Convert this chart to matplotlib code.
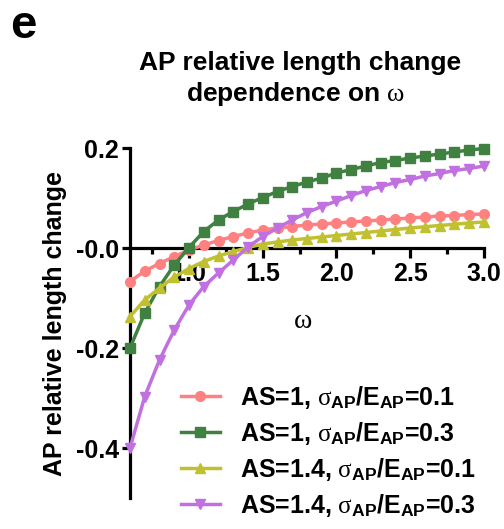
import numpy as np
import matplotlib
matplotlib.use("Agg")
import matplotlib.pyplot as plt
from matplotlib.ticker import FixedLocator, FixedFormatter

plt.rcParams["font.family"] = ["Liberation Sans", "DejaVu Sans"]
plt.rcParams["font.weight"] = "bold"
plt.rcParams["mathtext.fontset"] = "custom"
plt.rcParams["mathtext.rm"] = "Liberation Sans:bold"
plt.rcParams["mathtext.bf"] = "Liberation Sans:bold"
plt.rcParams["mathtext.it"] = "Liberation Serif:normal"

# omega values (0.6 .. 3.0, step 0.1)
omega = [0.6, 0.7, 0.8, 0.9, 1.0, 1.1, 1.2, 1.3, 1.4, 1.5, 1.6, 1.7, 1.8,
         1.9, 2.0, 2.1, 2.2, 2.3, 2.4, 2.5, 2.6, 2.7, 2.8, 2.9, 3.0]

as1_s01 = [-0.067, -0.046, -0.031, -0.017, -0.004, 0.006, 0.015, 0.023, 0.030,
           0.036, 0.040, 0.043, 0.046, 0.048, 0.050, 0.052, 0.054, 0.056,
           0.058, 0.060, 0.062, 0.064, 0.065, 0.067, 0.068]
as1_s03 = [-0.200, -0.130, -0.077, -0.034, 0.001, 0.033, 0.056, 0.073, 0.088,
           0.101, 0.113, 0.123, 0.132, 0.140, 0.150, 0.157, 0.164, 0.171,
           0.175, 0.180, 0.184, 0.188, 0.192, 0.196, 0.199]
as14_s01 = [-0.137, -0.104, -0.080, -0.058, -0.041, -0.027, -0.016, -0.007, 0.001,
            0.008, 0.012, 0.016, 0.019, 0.022, 0.025, 0.028, 0.031, 0.034,
            0.037, 0.040, 0.0425, 0.045, 0.0475, 0.050, 0.052]
as14_s03 = [-0.400, -0.297, -0.224, -0.164, -0.114, -0.077, -0.050, -0.024, 0.002,
            0.023, 0.040, 0.056, 0.071, 0.083, 0.094, 0.105, 0.115, 0.123,
            0.131, 0.137, 0.144, 0.149, 0.155, 0.159, 0.164]

sig = r"$\mathit{\sigma}_{\mathrm{AP}}$/E$_{\mathrm{AP}}$"
series = [
    (as1_s01, "#FF8080", "o", "AS=1, " + sig + "=0.1"),
    (as1_s03, "#408040", "s", "AS=1, " + sig + "=0.3"),
    (as14_s01, "#C0C030", "^", "AS=1.4, " + sig + "=0.1"),
    (as14_s03, "#C070E0", "v", "AS=1.4, " + sig + "=0.3"),
]

yticks = [0.2, 0.0, -0.2, -0.4]
ytick_labels = ["0.2", "-0.0", "-0.2", "-0.4"]
xticks = [1.0, 1.5, 2.0, 2.5, 3.0]
xtick_labels = ["1.0", "1.5", "2.0", "2.5", "3.0"]
xticks_minor = [0.75, 1.25, 1.75, 2.25, 2.75]

W, H = 504, 529
fig = plt.figure(figsize=(W / 100, H / 100), dpi=100)
ax = fig.add_axes([130 / W, 31 / H, (484 - 130) / W, (381 - 31) / H])

handles = []
for vals, color, marker, label in series:
    h, = ax.plot(omega, vals, color=color, marker=marker, markersize=7,
                 linewidth=2.5, clip_on=False, zorder=3, label=label)
    handles.append(h)

ax.set_xlim(0.6, 3.0)
ax.set_ylim(-0.5, 0.2)

ax.spines["top"].set_visible(False)
ax.spines["right"].set_visible(False)
ax.spines["bottom"].set_position(("data", 0))
for s in ("left", "bottom"):
    ax.spines[s].set_linewidth(2.3)

ax.yaxis.set_major_locator(FixedLocator(yticks))
ax.yaxis.set_major_formatter(FixedFormatter(ytick_labels))
ax.xaxis.set_major_locator(FixedLocator(xticks))
ax.xaxis.set_minor_locator(FixedLocator(xticks_minor))
ax.xaxis.set_major_formatter(FixedFormatter(xtick_labels))
ax.tick_params(axis="y", which="major", length=6, width=2.3, labelsize=18, pad=2)
ax.tick_params(axis="x", which="major", length=7, width=2.3, labelsize=18, pad=3)
ax.tick_params(axis="x", which="minor", length=4.5, width=2.3)

ax.set_ylabel("AP relative length change", fontsize=18, fontweight="bold", labelpad=6)

# omega symbol drawn in a serif face, as in the original
fig.text(303 / W, 1 - 321 / H, "\u03c9", fontsize=20, family="Liberation Serif",
         fontweight="normal", ha="center", va="center")

fig.text(300 / W, 1 - 70 / H, "AP relative length change", fontsize=19,
         fontweight="bold", ha="center", va="baseline")
fig.text(296 / W, 1 - 101 / H, r"dependence on $\mathit{\omega}$", fontsize=19,
         fontweight="bold", ha="center", va="baseline")
fig.text(10 / W, 1 - 38 / H, "e", fontsize=34, fontweight="bold", ha="left", va="baseline")

ax.legend(handles=handles, loc="upper left", bbox_to_anchor=(181 / W, 1 - 384 / H),
          bbox_transform=fig.transFigure, frameon=False, fontsize=18,
          handlelength=1.55, handletextpad=0.8, labelspacing=0.36,
          borderpad=0, borderaxespad=0, numpoints=1)

fig.savefig("out.png", dpi=100)
